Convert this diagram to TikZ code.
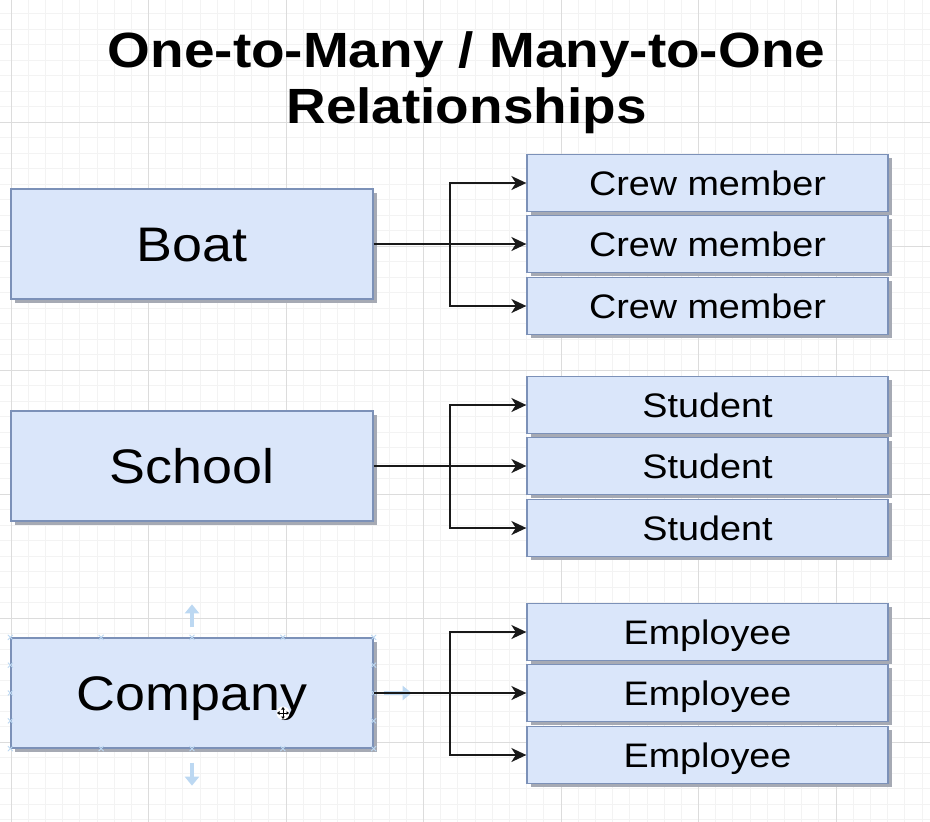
\documentclass[tikz,border=0pt]{standalone}
\usepackage{fontspec}
\setmainfont[FakeStretch=1.11]{Liberation Sans}
\usetikzlibrary{shadows,arrows.meta,calc}

\definecolor{boxfill}{HTML}{DAE6FA}
\definecolor{boxline}{HTML}{7C91B8}
\definecolor{shadowgray}{HTML}{A6AAB4}
\definecolor{gridminor}{HTML}{F3F3F3}
\definecolor{gridmajor}{HTML}{DCDCDC}
\definecolor{hintblue}{HTML}{BCD8F2}

\begin{document}
\begin{tikzpicture}[x=1pt,y=-1pt,
  boxbase/.style={draw=boxline, line width=1.3pt, fill=boxfill, inner sep=0pt,
    text depth=0pt,
    drop shadow={shadow xshift=3.5pt, shadow yshift=-3.5pt, fill=shadowgray, opacity=1}},
  entity/.style={boxbase, minimum width=362pt, minimum height=110pt,
    font=\fontsize{48.5}{56}\selectfont, text height=34.5pt},
  item/.style={boxbase, minimum width=361pt, minimum height=57pt,
    font=\fontsize{34}{40}\selectfont, text height=24pt},
  titletext/.style={anchor=base, inner sep=0pt, font=\fontsize{49.5}{56}\selectfont\bfseries},
  conn/.style={draw=black!90, line width=2pt,
    -{Stealth[length=15pt,width=14pt,inset=4.5pt]}},
  hintarrow/.style={draw=hintblue, line width=4pt,
    -{Triangle[length=9pt,width=14pt]}},
  handle/.style={draw=hintblue, line width=0.9pt},
]
\useasboundingbox (0,0) rectangle (930,822);
\fill[white] (0,0) rectangle (930,822);

% background grid: fine lines every 1/8 of a major cell
\begin{scope}
  \clip (0,0) rectangle (930,822);
  \foreach \i in {-1,...,54}
    \draw[gridminor, line width=0.8pt] ({11+17.1875*\i},0) -- ++(0,822);
  \foreach \i in {0,...,54}
    \draw[gridminor, line width=0.8pt] (0,{-2+15.5*\i}) -- ++(930,0);
  \foreach \i in {0,...,6}
    \draw[gridmajor, line width=0.9pt] ({11+137.5*\i},0) -- ++(0,822);
  \foreach \i in {0,...,6}
    \draw[gridmajor, line width=0.9pt] (0,{-2+124*\i}) -- ++(930,0);
\end{scope}

% title
\node[titletext] (title1) at (466.5,67) {One-to-Many / Many-to-One};
\node[titletext] (title2) at (466.5,123) {Relationships};

% the "one" side
\node[entity] (boat)    at (192,244) {Boat};
\node[entity] (school)  at (192,466) {School};
\node[entity] (company) at (192,693) {Company};

% the "many" side
\node[item] (crew1) at (707.5,183) {Crew member};
\node[item] (crew2) at (707.5,244) {Crew member};
\node[item] (crew3) at (707.5,306) {Crew member};

\node[item] (stud1) at (707.5,405) {Student};
\node[item] (stud2) at (707.5,466) {Student};
\node[item] (stud3) at (707.5,528) {Student};

\node[item] (empl1) at (707.5,632) {Employee};
\node[item] (empl2) at (707.5,693) {Employee};
\node[item] (empl3) at (707.5,755) {Employee};

% hover hints and handles on the selected shape
\draw[hintarrow] ([yshift=10pt]company.north) -- ([yshift=33pt]company.north);
\draw[hintarrow] ([yshift=-14pt]company.south) -- ([yshift=-37pt]company.south);
\draw[hintarrow] ([xshift=10pt]company.east) -- ([xshift=38pt]company.east);
\foreach \t in {0,0.25,0.5,0.75,1} {
  \coordinate (hn) at ($(company.north west)!\t!(company.north east)$);
  \coordinate (hs) at ($(company.south west)!\t!(company.south east)$);
  \draw[handle] (hn) ++(-2.5,-2.5) -- ++(5,5) (hn) ++(-2.5,2.5) -- ++(5,-5);
  \draw[handle] (hs) ++(-2.5,-2.5) -- ++(5,5) (hs) ++(-2.5,2.5) -- ++(5,-5);
}
\foreach \t in {0.25,0.5,0.75} {
  \coordinate (hw) at ($(company.north west)!\t!(company.south west)$);
  \coordinate (he) at ($(company.north east)!\t!(company.south east)$);
  \draw[handle] (hw) ++(-2.5,-2.5) -- ++(5,5) (hw) ++(-2.5,2.5) -- ++(5,-5);
  \draw[handle] (he) ++(-2.5,-2.5) -- ++(5,5) (he) ++(-2.5,2.5) -- ++(5,-5);
}

% connectors: one trunk and two branches per group
\draw[conn] (boat.east) -- (crew2.west);
\draw[conn] (boat.east) ++(76,0) |- (crew1.west);
\draw[conn] (boat.east) ++(76,0) |- (crew3.west);

\draw[conn] (school.east) -- (stud2.west);
\draw[conn] (school.east) ++(76,0) |- (stud1.west);
\draw[conn] (school.east) ++(76,0) |- (stud3.west);

\draw[conn] (company.east) -- (empl2.west);
\draw[conn] (company.east) ++(76,0) |- (empl1.west);
\draw[conn] (company.east) ++(76,0) |- (empl3.west);

% move cursor over the selected shape
\coordinate (cursor) at (283,713);
\fill[white] (cursor) circle (6.5pt);
\draw[black, line width=1pt, {Triangle[length=2.5pt,width=3.5pt]}-{Triangle[length=2.5pt,width=3.5pt]}]
  ([xshift=-6pt]cursor) -- ([xshift=6pt]cursor);
\draw[black, line width=1pt, {Triangle[length=2.5pt,width=3.5pt]}-{Triangle[length=2.5pt,width=3.5pt]}]
  ([yshift=-6pt]cursor) -- ([yshift=6pt]cursor);
\end{tikzpicture}
\end{document}
